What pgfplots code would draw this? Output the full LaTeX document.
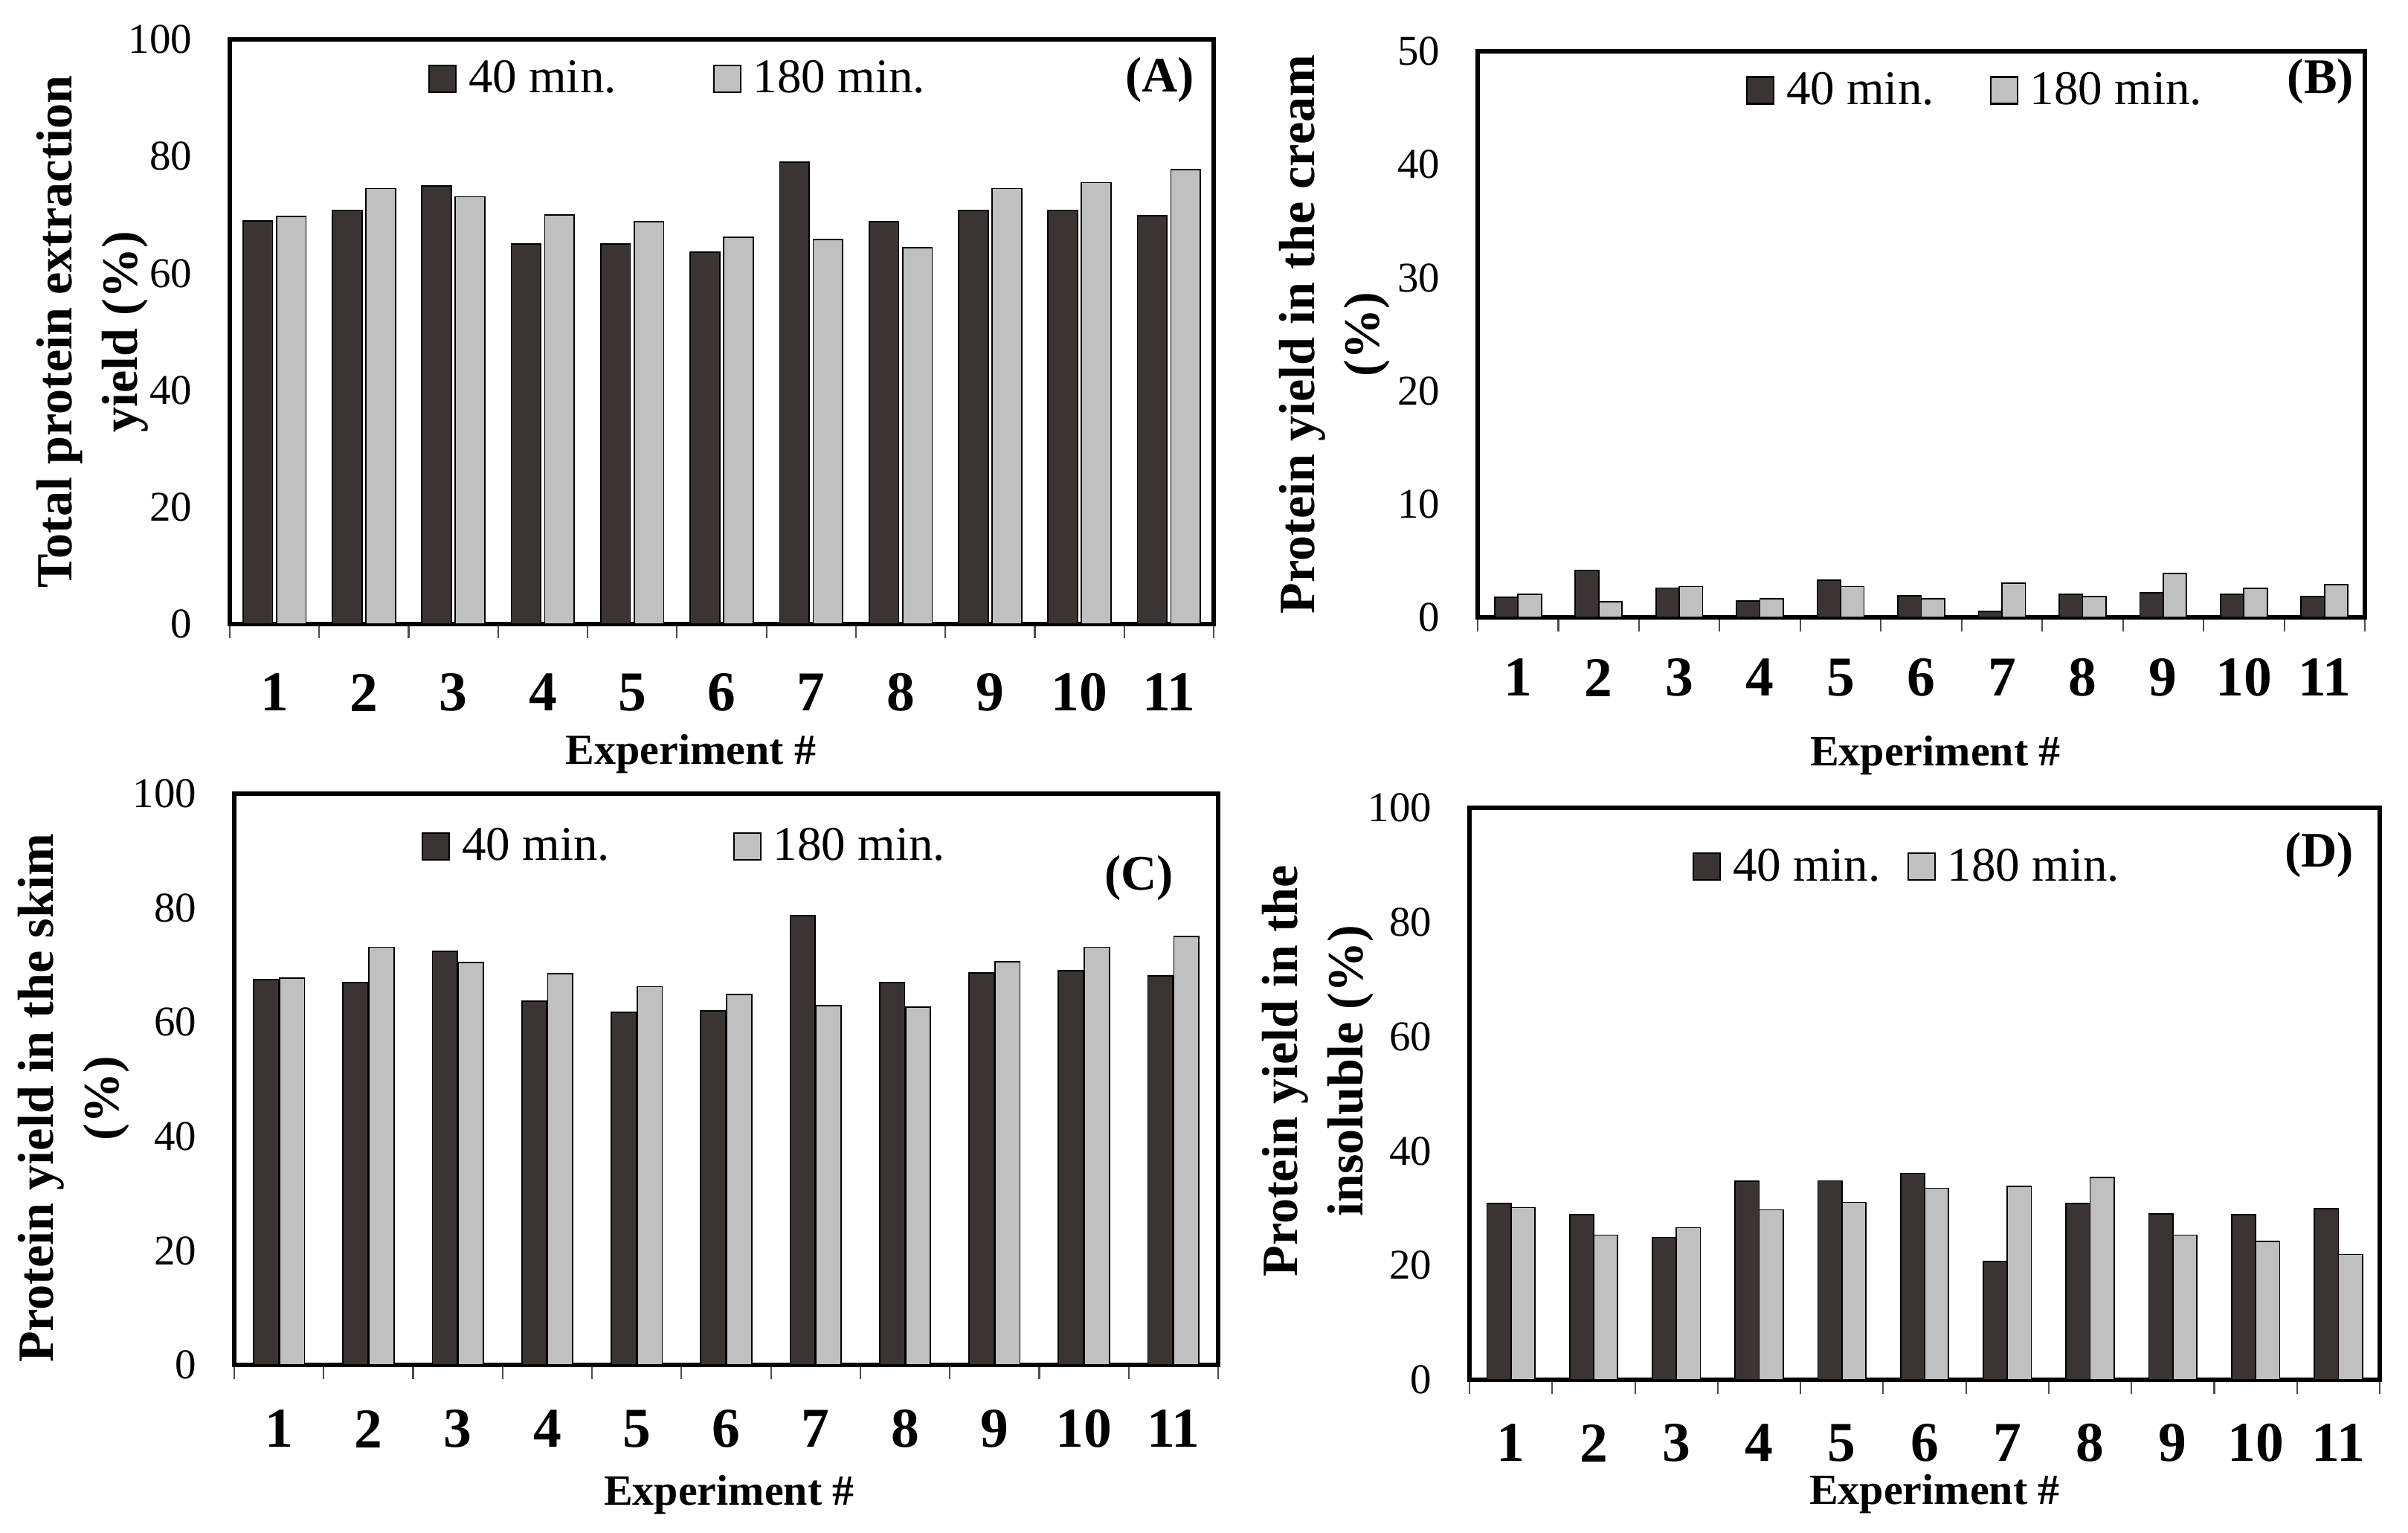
\documentclass[border=0pt]{standalone}
\usepackage{fontspec}
\setmainfont{Liberation Serif}
\usepackage{pgfplots}
\usepackage{pgfplotstable}
\pgfplotsset{compat=1.18}

\definecolor{darkbar}{RGB}{58,53,51}
\definecolor{lightbar}{RGB}{192,192,192}

\pgfplotstableread{
x  a     b
1  69.0  69.7
2  70.8  74.5
3  74.9  73.1
4  65.0  70.0
5  65.0  68.8
6  63.6  66.2
7  79.0  65.8
8  68.8  64.4
9  70.7  74.5
10 70.8  75.5
11 69.8  77.7
}\tabA
\pgfplotstableread{
x  a     b
1  1.75  2.06
2  4.17  1.36
3  2.59  2.72
4  1.45  1.62
5  3.29  2.72
6  1.93  1.62
7  0.53  3.03
8  2.02  1.84
9  2.19  3.90
10 2.02  2.54
11 1.84  2.89
}\tabB
\pgfplotstableread{
x  a     b
1  67.4  67.7
2  66.9  73.1
3  72.4  70.4
4  63.7  68.5
5  61.7  66.2
6  62.0  64.8
7  78.6  62.9
8  66.9  62.6
9  68.6  70.6
10 69.0  73.1
11 68.1  75.0
}\tabC
\pgfplotstableread{
x  a     b
1  30.8  30.1
2  28.9  25.3
3  24.9  26.6
4  34.7  29.7
5  34.8  31.0
6  36.1  33.5
7  20.7  33.8
8  30.8  35.4
9  29.0  25.3
10 28.9  24.2
11 29.9  21.9
}\tabD

\pgfplotsset{
  panel/.style={
    scale only axis,
    anchor=south west,
    xmin=0.5, xmax=11.5,
    ymin=0,
    xtick={1,2,3,4,5,6,7,8,9,10,11},
    xticklabels={1,2,3,4,5,6,7,8,9,10,11},
    minor xtick={0.5,1.5,2.5,3.5,4.5,5.5,6.5,7.5,8.5,9.5,10.5,11.5},
    major tick length=0pt,
    minor tick length=0.19cm,
    tick align=outside,
    xtick pos=bottom, ytick pos=left,
    minor tick style={line width=0.6pt, black!70},
    axis line style={line width=1.6pt},
    /pgf/number format/assume math mode=true,
    yticklabel style={font=\fontsize{16.2}{19}\selectfont, inner sep=0pt, anchor=east, xshift=-0.5cm},
    xticklabel style={font=\bfseries\fontsize{21.5}{25}\selectfont, inner sep=0pt, anchor=center},
    xlabel={Experiment \#},
    xlabel style={font=\bfseries\fontsize{16.5}{19}\selectfont, inner sep=0pt, anchor=base},
    ylabel style={font=\bfseries\fontsize{19.4}{25}\selectfont, inner sep=0pt, align=center, anchor=south},
    ybar,
    legend columns=2,
    legend style={draw=none, fill=none, inner sep=0pt, outer sep=0pt,
      font=\fontsize{18.5}{22}\selectfont, anchor=west,
      nodes={inner sep=0pt},
      /tikz/every odd column/.append style={column sep=0.16cm}},
    legend cell align=left,
  },
  b40/.style={fill=darkbar, draw=black, line width=0.5pt,
    legend image code/.code={\draw[fill=darkbar, draw=black, line width=0.6pt] (0cm,-0.18cm) rectangle (0.36cm,0.18cm);}},
  b180/.style={fill=lightbar, draw=black, line width=0.5pt,
    legend image code/.code={\draw[fill=lightbar, draw=black, line width=0.6pt] (0cm,-0.18cm) rectangle (0.36cm,0.18cm);}},
}

\begin{document}
\begin{tikzpicture}
\useasboundingbox (0,0) rectangle (32.38cm,20.60cm);

% (A)
\begin{axis}[panel, at={(3.09cm,12.21cm)}, width=13.23cm, height=7.86cm,
  ymax=100, ytick={0,20,40,60,80,100},
  bar width=0.33,
  xticklabel style={yshift=-0.92cm},
  xlabel style={at={(axis description cs:0.4686,0)}, yshift=-1.89cm},
  ylabel={Total protein extraction\\yield (\%)},
  ylabel style={at={(axis description cs:-0.0824,0.5)}},
  legend style={at={(axis description cs:0.2018,0.9326)},
    /tikz/every even column/.append style={column sep=1.30cm}},
]
\addplot[b40, bar shift=-0.187] table[x=x,y=a]{\tabA};
\addplot[b180, bar shift=0.187] table[x=x,y=b]{\tabA};
\legend{40 min.,180 min.}
\node[font=\bfseries\fontsize{19}{22}\selectfont, anchor=east, inner sep=0pt] at (rel axis cs:0.981,0.931) {(A)};
\end{axis}

% (B)
\begin{axis}[panel, at={(19.87cm,12.30cm)}, width=11.93cm, height=7.61cm,
  ymax=50, ytick={0,10,20,30,40,50},
  bar width=0.29,
  xticklabel style={yshift=-0.81cm},
  xlabel style={at={(axis description cs:0.516,0)}, yshift=-2.0cm},
  ylabel={Protein yield in the cream\\(\%)},
  ylabel style={at={(axis description cs:-0.098,0.5)}},
  legend style={at={(axis description cs:0.3026,0.931)},
    /tikz/every even column/.append style={column sep=0.75cm}},
]
\addplot[b40, bar shift=-0.145] table[x=x,y=a]{\tabB};
\addplot[b180, bar shift=0.145] table[x=x,y=b]{\tabB};
\legend{40 min.,180 min.}
\node[font=\bfseries\fontsize{19}{22}\selectfont, anchor=east, inner sep=0pt] at (rel axis cs:0.988,0.947) {(B)};
\end{axis}

% (C)
\begin{axis}[panel, at={(3.15cm,2.25cm)}, width=13.23cm, height=7.68cm,
  ymax=100, ytick={0,20,40,60,80,100},
  bar width=0.28,
  xticklabel style={yshift=-0.86cm},
  xlabel style={at={(axis description cs:0.503,0)}, yshift=-1.88cm},
  ylabel={Protein yield in the skim\\(\%)},
  ylabel style={at={(axis description cs:-0.106,0.467)}},
  legend style={at={(axis description cs:0.1905,0.908)},
    /tikz/every even column/.append style={column sep=1.66cm}},
]
\addplot[b40, bar shift=-0.145] table[x=x,y=a]{\tabC};
\addplot[b180, bar shift=0.145] table[x=x,y=b]{\tabC};
\legend{40 min.,180 min.}
\node[font=\bfseries\fontsize{19}{22}\selectfont, anchor=east, inner sep=0pt] at (rel axis cs:0.955,0.852) {(C)};
\end{axis}

% (D)
\begin{axis}[panel, at={(19.76cm,2.05cm)}, width=12.24cm, height=7.69cm,
  ymax=100, ytick={0,20,40,60,80,100},
  bar width=0.29,
  xticklabel style={yshift=-0.85cm},
  xlabel style={at={(axis description cs:0.511,0)}, yshift=-1.67cm},
  ylabel={Protein yield in the\\insoluble (\%)},
  ylabel style={at={(axis description cs:-0.105,0.54)}},
  legend style={at={(axis description cs:0.245,0.897)},
    /tikz/every even column/.append style={column sep=0.36cm}},
]
\addplot[b40, bar shift=-0.145] table[x=x,y=a]{\tabD};
\addplot[b180, bar shift=0.145] table[x=x,y=b]{\tabD};
\legend{40 min.,180 min.}
\node[font=\bfseries\fontsize{19}{22}\selectfont, anchor=east, inner sep=0pt] at (rel axis cs:0.972,0.917) {(D)};
\end{axis}
\end{tikzpicture}
\end{document}
